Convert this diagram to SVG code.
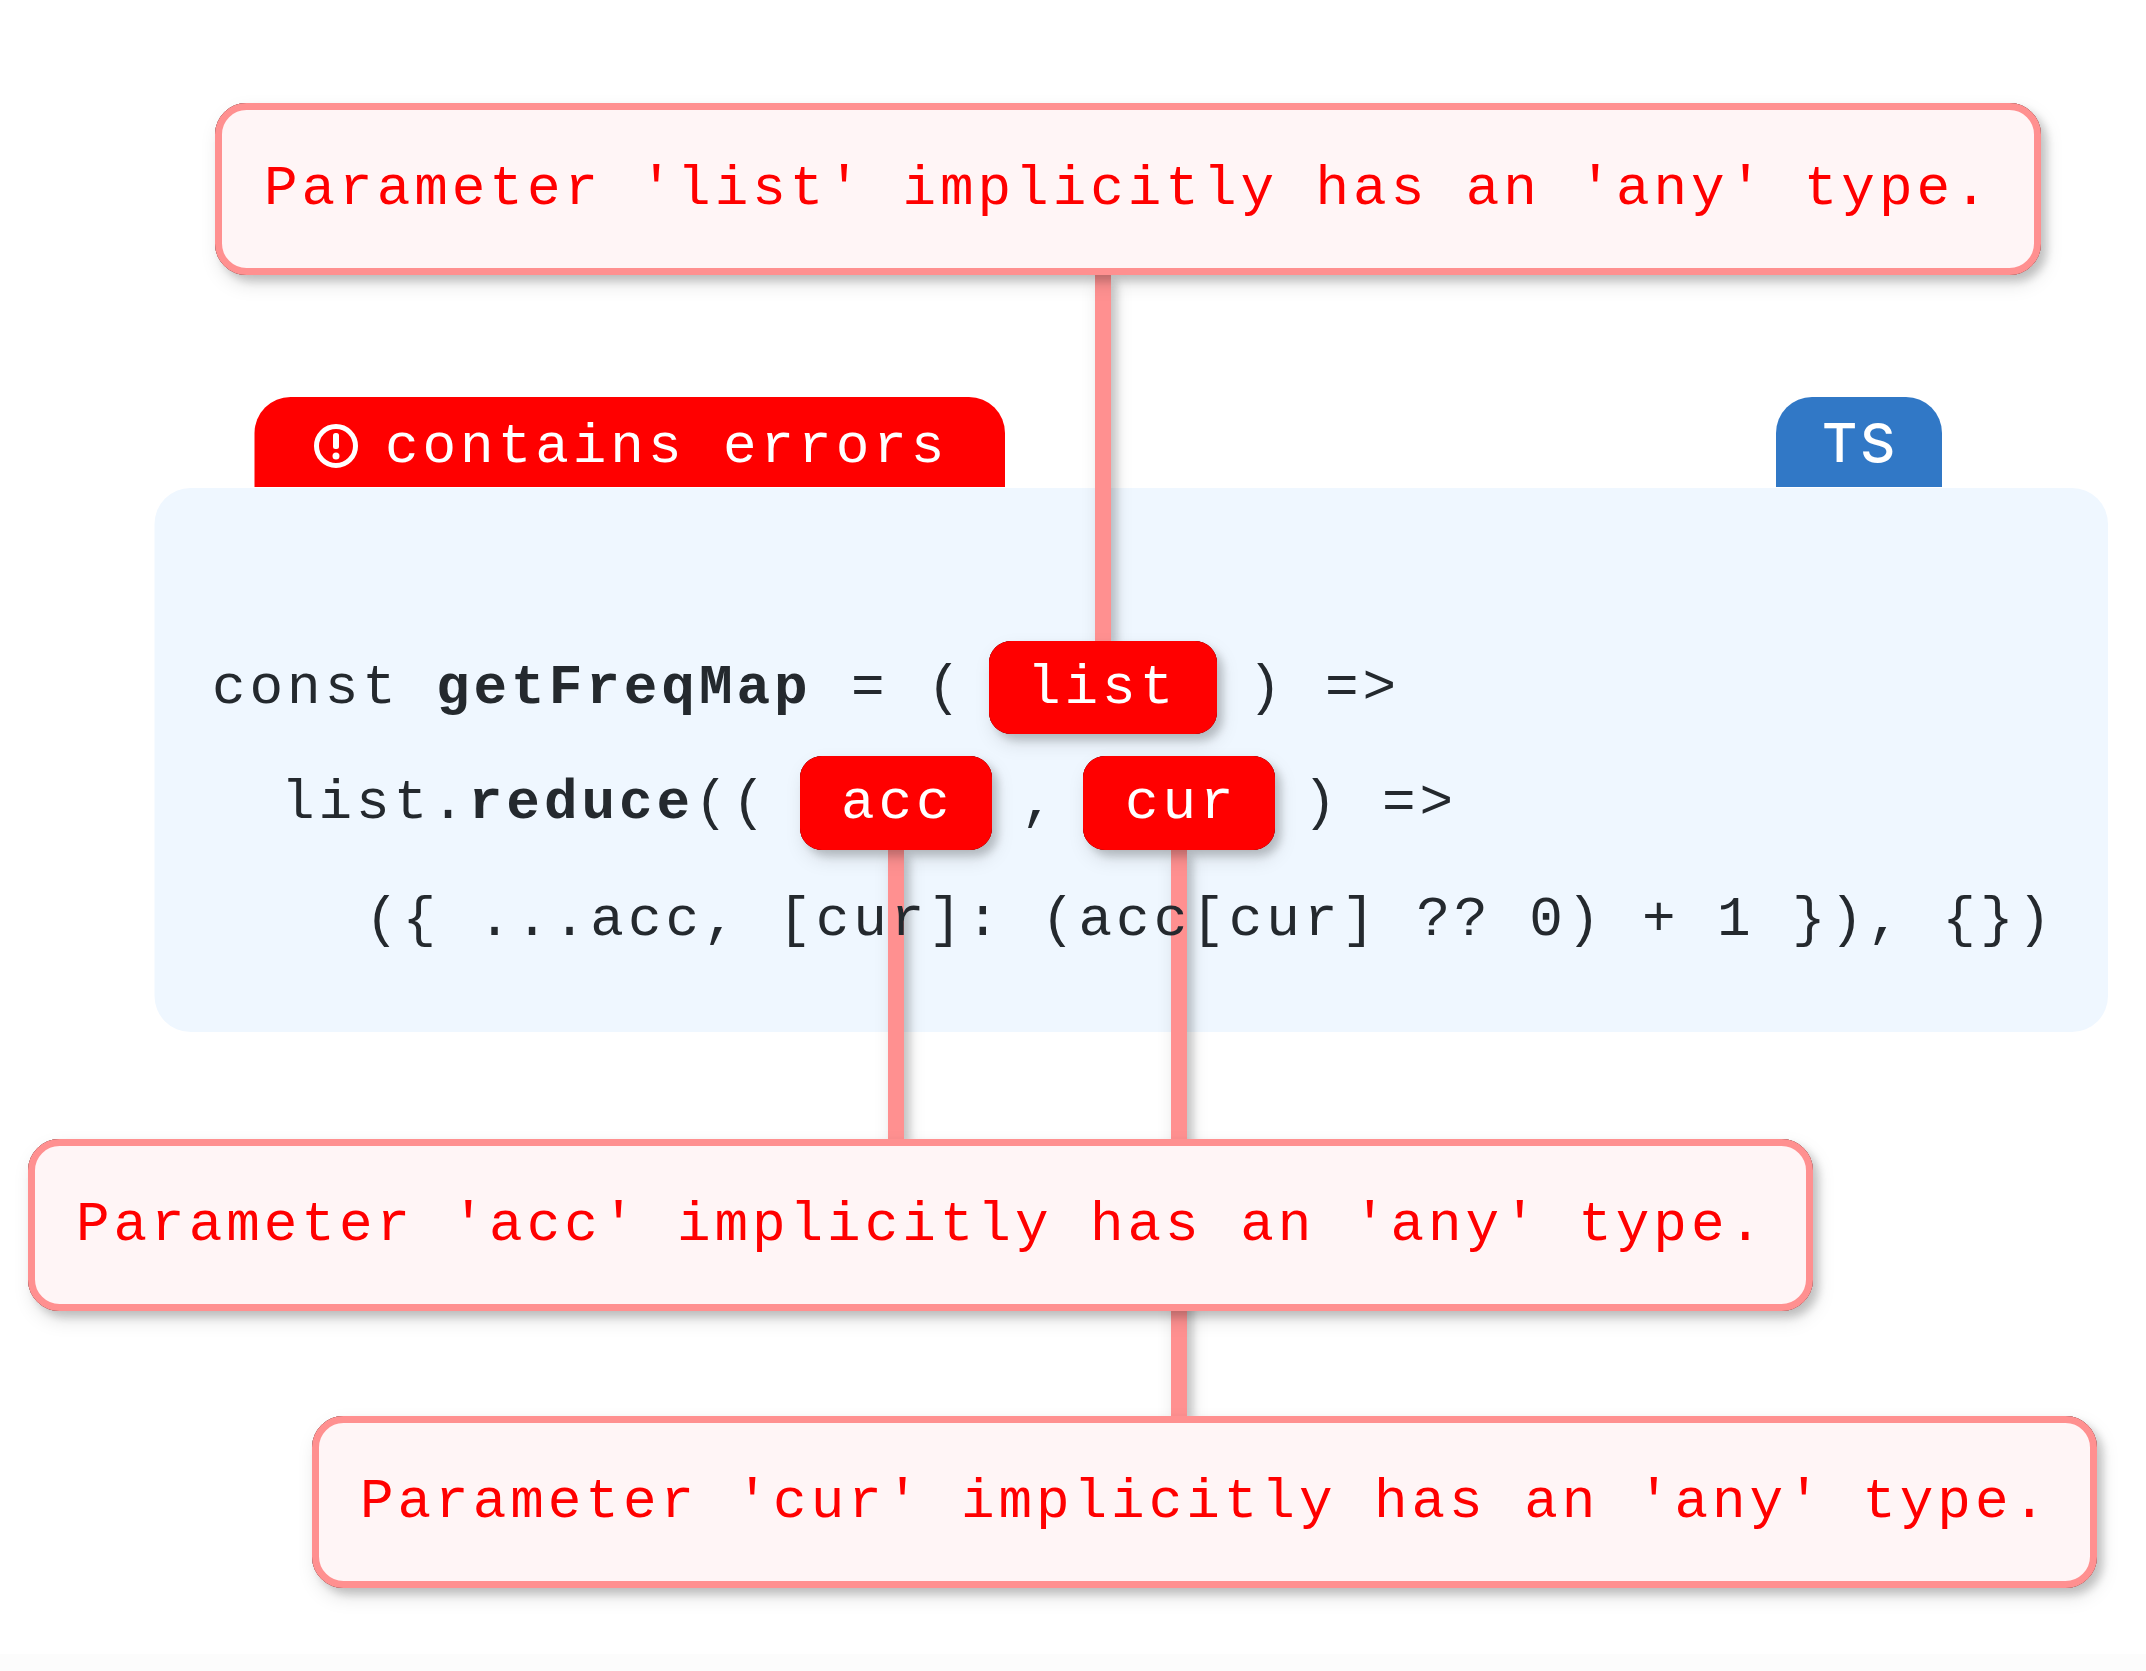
<svg xmlns="http://www.w3.org/2000/svg" width="2146" height="1671" viewBox="0 0 2146 1671">
<style>
text{font-family:"Liberation Mono",monospace;font-size:56px;letter-spacing:3.95px;white-space:pre}
.code{fill:#24292e}
.b{font-weight:700}
.w{fill:#fff}
.err{fill:#f00}
.box{fill:#fff5f6;stroke:#ff9090;stroke-width:7;filter:url(#sh)}
.pill{fill:#f00;filter:url(#sh)}
.conn{fill:#ff9090;filter:url(#sh)}
</style>
<defs>
<filter id="sh" filterUnits="userSpaceOnUse" x="0" y="0" width="2146" height="1671">
<feDropShadow in="SourceAlpha" dx="6" dy="6" stdDeviation="4" flood-color="#000" flood-opacity=".17" result="a"/>
<feDropShadow in="SourceAlpha" dx="4" dy="9" stdDeviation="9" flood-color="#000" flood-opacity=".12" result="b"/>
<feMerge><feMergeNode in="b"/><feMergeNode in="a"/><feMergeNode in="SourceGraphic"/></feMerge>
</filter>
</defs>
<rect width="2146" height="1671" fill="#fff"/>
<rect y="1654" width="2146" height="17" fill="#fcfcfc"/>
<g id="tab-errors">
<path d="M254.500 487V433a36 36 0 0 1 36-36H969a36 36 0 0 1 36 36V487Z" fill="#f00"/>
<circle cx="336" cy="446" r="19.500" fill="none" stroke="#fff" stroke-width="5"/>
<rect x="333" y="433" width="6" height="16" rx="2.500" fill="#fff"/>
<circle cx="336" cy="456" r="3.500" fill="#fff"/>
<text class="w" x="385" y="462">contains errors</text>
</g>
<g id="tab-ts">
<path d="M1776 487V433a36 36 0 0 1 36-36h94a36 36 0 0 1 36 36V487Z" fill="#3178c6"/>
<text x="1860" y="462" text-anchor="middle" style="font-family:Inter,sans-serif;font-size:54px;letter-spacing:3px;font-weight:500" class="w">TS</text>
</g>
<g id="code-block"><rect x="154.500" y="488" width="1953.500" height="544" rx="36" fill="#eff7ff"/></g>
<g id="connectors">
<rect class="conn" x="1095" y="275" width="16" height="366"/>
<rect class="conn" x="888" y="850" width="16" height="289"/>
<rect class="conn" x="1171" y="850" width="16" height="566"/>
</g>
<g id="code-text">
<text class="code" x="212" y="703">const</text>
<text class="code b" x="436" y="703">getFreqMap</text>
<text class="code" x="851" y="703">=</text>
<text class="code" x="927" y="703">(</text>
<text class="code" x="1248" y="703">)</text>
<text class="code" x="1325" y="703">=&gt;</text>
<text class="code" x="281" y="818">list.<tspan class="b">reduce</tspan>((</text>
<text class="code" x="1021" y="818">,</text>
<text class="code" x="1303" y="818">)</text>
<text class="code" x="1382" y="818">=&gt;</text>
<text class="code" x="365" y="935">({ ...acc, [cur]: (acc[cur] ?? 0) + 1 }), {})</text>
</g>
<g id="param-list"><rect class="pill" x="989" y="641" width="228" height="93" rx="22"/><text class="w" x="1027" y="703">list</text></g>
<g id="param-acc"><rect class="pill" x="800" y="756" width="192" height="94" rx="22"/><text class="w" x="841" y="818">acc</text></g>
<g id="param-cur"><rect class="pill" x="1083" y="756" width="192" height="94" rx="22"/><text class="w" x="1125" y="818">cur</text></g>
<g id="msg-list"><rect class="box" x="218.500" y="106.500" width="1819" height="165" rx="28"/><text class="err" x="264" y="204">Parameter 'list' implicitly has an 'any' type.</text></g>
<g id="msg-acc"><rect class="box" x="31.500" y="1142.500" width="1778" height="165" rx="28"/><text class="err" x="76" y="1240">Parameter 'acc' implicitly has an 'any' type.</text></g>
<g id="msg-cur"><rect class="box" x="315.500" y="1419.500" width="1778" height="165" rx="28"/><text class="err" x="360" y="1517">Parameter 'cur' implicitly has an 'any' type.</text></g>
</svg>
